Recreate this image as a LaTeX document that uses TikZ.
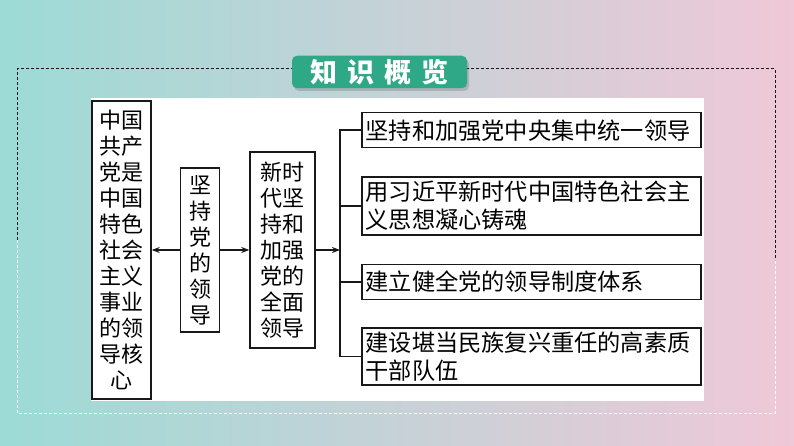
\documentclass[tikz,border=0pt]{standalone}
\usepackage{fontspec}
\usepackage{xcolor}
\usepackage{tikz}
\usetikzlibrary{arrows.meta,positioning,calc}
\newfontfamily\cjk{Noto Sans CJK SC}
\definecolor{bgteal}{RGB}{156,219,214}
\definecolor{bgmid}{RGB}{222,226,232}
\definecolor{bgpink}{RGB}{240,200,216}
\definecolor{tabgreen}{RGB}{47,168,136}
\definecolor{ink}{RGB}{25,25,25}
\tikzset{
    colbox/.style={rectangle, draw=ink, line width=1.5pt, fill=white, align=center, inner sep=0pt, font=\cjk\fontsize{22}{26}\selectfont},
    itembox/.style={rectangle, draw=ink, line width=1.5pt, fill=white, align=left, text width=331pt, inner xsep=4pt, inner ysep=4pt, minimum height=35pt, font=\cjk\fontsize{23.2}{28}\selectfont},
    flow/.style={-{Stealth[length=8pt, width=6pt]}, line width=1.5pt, draw=ink},
    branch/.style={line width=1.5pt, draw=ink},
    border/.style={dash pattern=on 3pt off 2pt, line width=1pt},
}

\begin{document}
\begin{tikzpicture}[x=1pt, y=-1pt, node distance=28pt]
    % background and frame
    \shade[left color=bgteal, middle color=bgmid, right color=bgpink] (0,0) rectangle (794,446);
    \useasboundingbox (0,0) rectangle (794,446);
    \draw[border, white] (17,240) -- (17,413) -- (775,413) -- (775,260);
    \draw[border, ink] (17,240) -- (17,69) -- (775,69) -- (775,260);
    \fill[black, opacity=0.15, rounded corners=5pt] (294,59) rectangle (469,91);
    \node[fill=tabgreen, rounded corners=5pt, minimum width=175pt, minimum height=32pt, text=white, font=\cjk\bfseries\fontsize{27}{27}\selectfont] (tab) at (379.5,72) {知\hspace{10pt}识\hspace{10pt}概\hspace{10pt}览};
    \fill[white] (91,98) rectangle (704,401);

    % chain of columns
    \node[colbox, minimum width=59pt, minimum height=298pt] (core) at (121.5,250) {中国\\共产\\党是\\中国\\特色\\社会\\主义\\事业\\的领\\导核\\心};
    \node[colbox, minimum width=39pt, minimum height=164pt, right=28pt of core] (lead) {坚\\持\\党\\的\\领\\导};
    \node[colbox, minimum width=65pt, minimum height=196pt, right=29pt of lead] (whole) {新时\\代坚\\持和\\加强\\党的\\全面\\领导};

    % four items
    \node[itembox, anchor=north west] (r1) at (361,112) {坚持和加强党中央集中统一领导};
    \node[itembox, below=of r1] (r2) {用习近平新时代中国特色社会主\\义思想凝心铸魂};
    \node[itembox, below=of r2] (r3) {建立健全党的领导制度体系};
    \node[itembox, below=27pt of r3] (r4) {建设堪当民族复兴重任的高素质\\干部队伍};

    \coordinate (spine) at (340,250);
    \draw[flow] (lead) -- (core);
    \draw[flow] (lead) -- (whole);
    \draw[flow] (whole) -- (spine);
    \draw[branch] (r1.west) -| (spine |- r4.west) -- (r4.west);
    \draw[branch] (r2.west) -- (spine |- r2.west);
    \draw[branch] (r3.west) -- (spine |- r3.west);
\end{tikzpicture}
\end{document}
